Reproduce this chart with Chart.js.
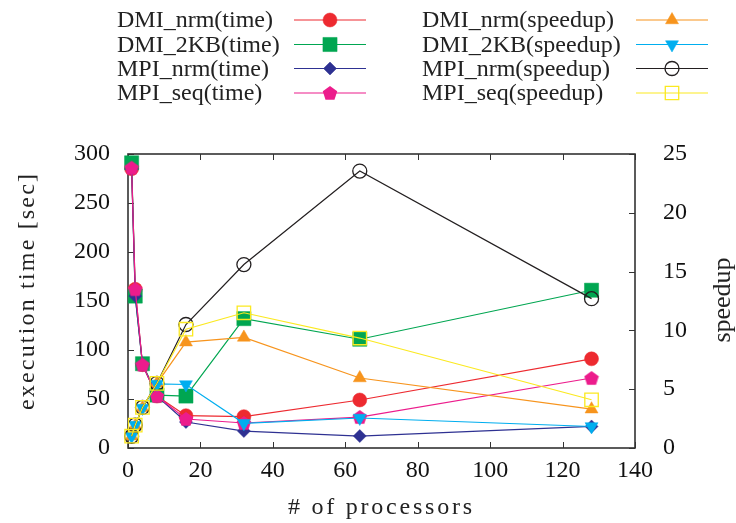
<!DOCTYPE html>
<html><head><meta charset="utf-8">
<script src="https://cdn.jsdelivr.net/npm/chart.js@4/dist/chart.umd.min.js"></script>
<style>html,body{margin:0;padding:0;background:#fff;}#wrap{width:736px;height:523px;}</style>
</head><body><div id="wrap"><canvas id="c" width="736" height="523"></canvas></div>
<script>
// ---- data ----
const processors = [1, 2, 4, 8, 16, 32, 64, 128];
const dmiNrmTime = [285, 162, 85, 53, 33, 32, 49, 91];
const dmi2kbTime = [291, 155, 86, 54, 53, 132, 111, 161];
const mpiNrmTime = [285, 155, 85, 53, 26.5, 17.3, 12.2, 22];
const mpiSeqTime = [286, 162, 85, 53, 29.6, 25.5, 31.6, 71.4];
const dmiNrmSpeedup = [1, 1.9, 3.4, 5.5, 9.0, 9.4, 5.95, 3.3];
const dmi2kbSpeedup = [1, 1.95, 3.4, 5.45, 5.4, 2.1, 2.55, 1.83];
const mpiNrmSpeedup = [1, 1.95, 3.45, 5.5, 10.5, 15.6, 23.55, 12.7];
const mpiSeqSpeedup = [1, 1.95, 3.45, 5.5, 10.1, 11.5, 9.35, 4.1];
const seriesLabels = ['DMI_nrm(time)', 'DMI_2KB(time)', 'MPI_nrm(time)', 'MPI_seq(time)',
  'DMI_nrm(speedup)', 'DMI_2KB(speedup)', 'MPI_nrm(speedup)', 'MPI_seq(speedup)'];
const xTickValues = [0, 20, 40, 60, 80, 100, 120, 140];
const yTickValues = [0, 50, 100, 150, 200, 250, 300];
const y2TickValues = [0, 5, 10, 15, 20, 25];
const xTitle = '# of processors';
const yTitle = 'execution time [sec]';
const y2Title = 'speedup';

const FONT = 'Liberation Serif';
Chart.defaults.font.family = FONT;

const pentagon = (() => {
  const c = document.createElement('canvas'); c.width = 16; c.height = 16;
  const g = c.getContext('2d'); g.fillStyle = '#ec1c8c'; g.beginPath();
  for (let k = 0; k < 5; k++) {
    const a = -Math.PI / 2 + k * 2 * Math.PI / 5;
    const px = 8 + 7.6 * Math.cos(a), py = 8.7 + 7.6 * Math.sin(a);
    if (k) g.lineTo(px, py); else g.moveTo(px, py);
  }
  g.closePath(); g.fill(); return c;
})();

const styles = [
  {color: '#ed2a30', point: 'circle', r: 7, filled: true, axis: 'y'},
  {color: '#00a651', point: 'rect', r: 10, filled: true, axis: 'y'},
  {color: '#2e3192', point: 'rectRot', r: 6.5, filled: true, axis: 'y'},
  {color: '#ec1c8c', point: pentagon, r: 7, filled: true, axis: 'y'},
  {color: '#f7941d', point: 'triangle', r: 7.5, filled: true, axis: 'y2'},
  {color: '#00aeef', point: 'triangle', r: 7.5, filled: true, axis: 'y2', rot: 180},
  {color: '#231f20', point: 'circle', r: 7, filled: false, axis: 'y2'},
  {color: '#fbe920', point: 'rect', r: 9.5, filled: false, axis: 'y2'}
];
const seriesValues = [dmiNrmTime, dmi2kbTime, mpiNrmTime, mpiSeqTime,
  dmiNrmSpeedup, dmi2kbSpeedup, mpiNrmSpeedup, mpiSeqSpeedup];

const datasets = seriesValues.map((vals, i) => {
  const s = styles[i];
  return {
    label: seriesLabels[i],
    data: processors.map((p, k) => ({x: p, y: vals[k]})),
    yAxisID: s.axis,
    borderColor: s.color,
    borderWidth: 1.2,
    backgroundColor: s.color,
    pointStyle: s.point,
    pointRadius: s.r,
    pointRotation: s.rot || 0,
    pointBackgroundColor: s.filled ? s.color : 'rgba(0,0,0,0)',
    pointBorderColor: s.color,
    pointBorderWidth: s.filled ? 0.5 : 1.3,
    fill: false,
    tension: 0,
    clip: false,
    order: 7 - i
  };
});

function drawSpaced(ctx, text, cx, cy, width, rot) {
  ctx.save();
  ctx.translate(cx, cy);
  ctx.rotate(rot);
  ctx.textBaseline = 'middle';
  ctx.textAlign = 'left';
  let w0 = 0;
  for (const ch of text) w0 += ctx.measureText(ch).width;
  const sp = (width - w0) / (text.length - 1);
  let x = -width / 2;
  for (const ch of text) { ctx.fillText(ch, x, 0); x += ctx.measureText(ch).width + sp; }
  ctx.restore();
}

const framePlugin = {
  id: 'frame',
  beforeDatasetsDraw(chart) {
    const {ctx, chartArea: a, scales} = chart;
    ctx.save();
    ctx.strokeStyle = '#333'; ctx.lineWidth = 1;
    const tl = 6;
    ctx.beginPath();
    xTickValues.forEach(v => {
      const px = Math.round(scales.x.getPixelForValue(v)) + 0.5;
      ctx.moveTo(px, a.bottom); ctx.lineTo(px, a.bottom - tl);
      ctx.moveTo(px, a.top); ctx.lineTo(px, a.top + tl);
    });
    yTickValues.forEach(v => {
      const py = Math.round(scales.y.getPixelForValue(v)) + 0.5;
      ctx.moveTo(a.left, py); ctx.lineTo(a.left + tl, py);
    });
    y2TickValues.forEach(v => {
      const py = Math.round(scales.y2.getPixelForValue(v)) + 0.5;
      ctx.moveTo(a.right, py); ctx.lineTo(a.right - tl, py);
    });
    ctx.stroke();
    ctx.lineWidth = 1.6; ctx.strokeStyle = '#333';
    ctx.strokeRect(a.left, a.top, a.right - a.left, a.bottom - a.top);
    ctx.restore();
  },
  afterDraw(chart) {
    const {ctx} = chart;
    ctx.save();
    ctx.fillStyle = '#222';
    ctx.font = '24px "' + FONT + '"';
    drawSpaced(ctx, yTitle, 28, 292, 236, -Math.PI / 2);
    drawSpaced(ctx, xTitle, 380, 508, 184, 0);
    ctx.font = '26px "' + FONT + '"';
    ctx.save(); ctx.translate(723, 300); ctx.rotate(-Math.PI / 2);
    ctx.textAlign = 'center'; ctx.textBaseline = 'middle';
    ctx.fillText(y2Title, 0, 0); ctx.restore();

    // legend
    const rows = [20, 44.5, 68.5, 93];
    const cols = [{tx: 117, l0: 294, l1: 366}, {tx: 422, l0: 636, l1: 708}];
    ctx.font = '24px "' + FONT + '"';
    ctx.textBaseline = 'middle'; ctx.textAlign = 'left';
    chart.data.datasets.forEach((d, i) => {
      const col = cols[Math.floor(i / 4)], y = rows[i % 4];
      ctx.fillStyle = '#222';
      ctx.fillText(d.label, col.tx, y + 1);
      ctx.strokeStyle = d.borderColor; ctx.lineWidth = 1.2;
      ctx.beginPath(); ctx.moveTo(col.l0, y); ctx.lineTo(col.l1, y); ctx.stroke();
      ctx.fillStyle = d.pointBackgroundColor; ctx.strokeStyle = d.pointBorderColor;
      ctx.lineWidth = d.pointBorderWidth;
      Chart.helpers.drawPoint(ctx, {pointStyle: d.pointStyle, radius: d.pointRadius,
        rotation: d.pointRotation, borderWidth: d.pointBorderWidth}, (col.l0 + col.l1) / 2, y);
    });
    ctx.restore();
  }
};

const tickFont = {family: FONT, size: 24};
new Chart(document.getElementById('c'), {
  type: 'line',
  data: {datasets},
  options: {
    responsive: false,
    animation: false,
    devicePixelRatio: 1,
    events: [],
    layout: {padding: {top: 154, left: 0, right: 0, bottom: 0}},
    plugins: {legend: {display: false}, tooltip: {enabled: false}},
    scales: {
      x: {
        type: 'linear', min: 0, max: 140,
        afterBuildTicks(s) { s.ticks = xTickValues.map(v => ({value: v})); },
        afterFit(s) { s.height = 75; },
        ticks: {font: tickFont, color: '#111', padding: 8, maxRotation: 0, autoSkip: false},
        grid: {display: false, drawTicks: false},
        border: {display: false}
      },
      y: {
        position: 'left', min: 0, max: 300,
        afterBuildTicks(s) { s.ticks = yTickValues.map(v => ({value: v})); },
        afterFit(s) { s.width = 128; },
        ticks: {font: tickFont, color: '#111', padding: 18},
        grid: {display: false, drawTicks: false},
        border: {display: false}
      },
      y2: {
        position: 'right', min: 0, max: 25,
        afterBuildTicks(s) { s.ticks = y2TickValues.map(v => ({value: v})); },
        afterFit(s) { s.width = 101; },
        ticks: {font: tickFont, color: '#111', padding: 28},
        grid: {display: false, drawTicks: false},
        border: {display: false}
      }
    }
  },
  plugins: [framePlugin]
});
</script></body></html>
